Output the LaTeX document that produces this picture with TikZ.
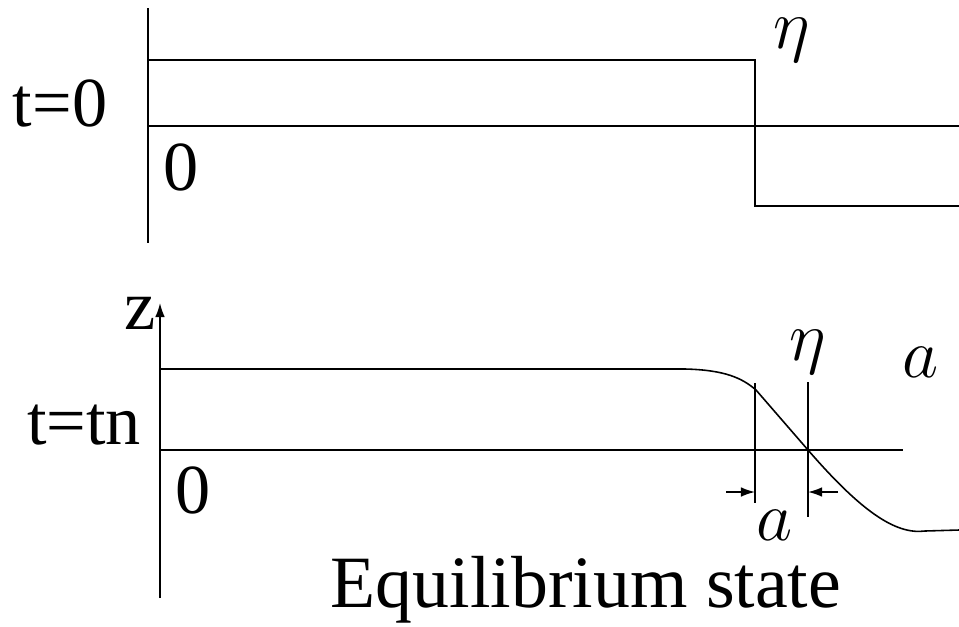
\RequirePackage{fix-cm}
\documentclass[tikz,border=0pt]{standalone}
\usepackage{amsmath,amssymb}
\usepackage{fontspec}
\setmainfont{Liberation Serif}
\usepackage{tikz}
\usetikzlibrary{arrows.meta,positioning}

\begin{document}
\begin{tikzpicture}[
  x=0.02cm, y=-0.02cm,
  ln/.style={line width=0.9pt},
  lbl/.style={inner sep=0pt, font=\fontsize{40}{46}\selectfont},
  arr/.style={-{Latex[length=8pt,width=5.5pt]}, line width=0.9pt}
]
\useasboundingbox (0,0) rectangle (959,626);
% t = 0
\draw[ln] (148,8) -- (148,243);
\draw[ln] (148,126) -- (959,126);
\draw[ln] (148,60) -- (755,60) -- (755,206) -- (959,206);
\node[lbl] (t0) at (60,103) {t=0};
\node[lbl] (zero0) at (181,167) {0};
\node[lbl] (eta0) at (792,40) {$\eta$};
% t = tn
\coordinate (zbot) at (160,598);
\coordinate (ztop) at (160,303);
\draw[arr] (zbot) -- (ztop);
\node[lbl, left=2pt of ztop, yshift=-6pt] (zlab) {z};
\draw[ln] (160,450) -- (903,450);
\draw[ln] (160,369) -- (685,369)
  .. controls (725,370) and (742,378) .. (756,390)
  -- (808,450)
  .. controls (860,510) and (895,535) .. (925,531)
  -- (959,530);
\draw[ln] (755,383) -- (755,503);
\draw[ln] (808,382) -- (808,517);
\coordinate (al) at (726,492);
\coordinate (ar) at (838,492);
\draw[arr] (al) -- (755,492);
\draw[arr] (ar) -- (808,492);
\node[lbl] (tn) at (84,425) {t=tn};
\node[lbl] (zero1) at (193,490) {0};
\node[lbl] (eta1) at (808,352) {$\eta$};
\node[lbl] (a1) at (921,362) {$a$};
\node[lbl] (a2) at (775,525) {$a$};
\node[lbl, font=\fontsize{42}{48}\selectfont] (eq) at (586,590) {Equilibrium state};
\end{tikzpicture}
\end{document}
